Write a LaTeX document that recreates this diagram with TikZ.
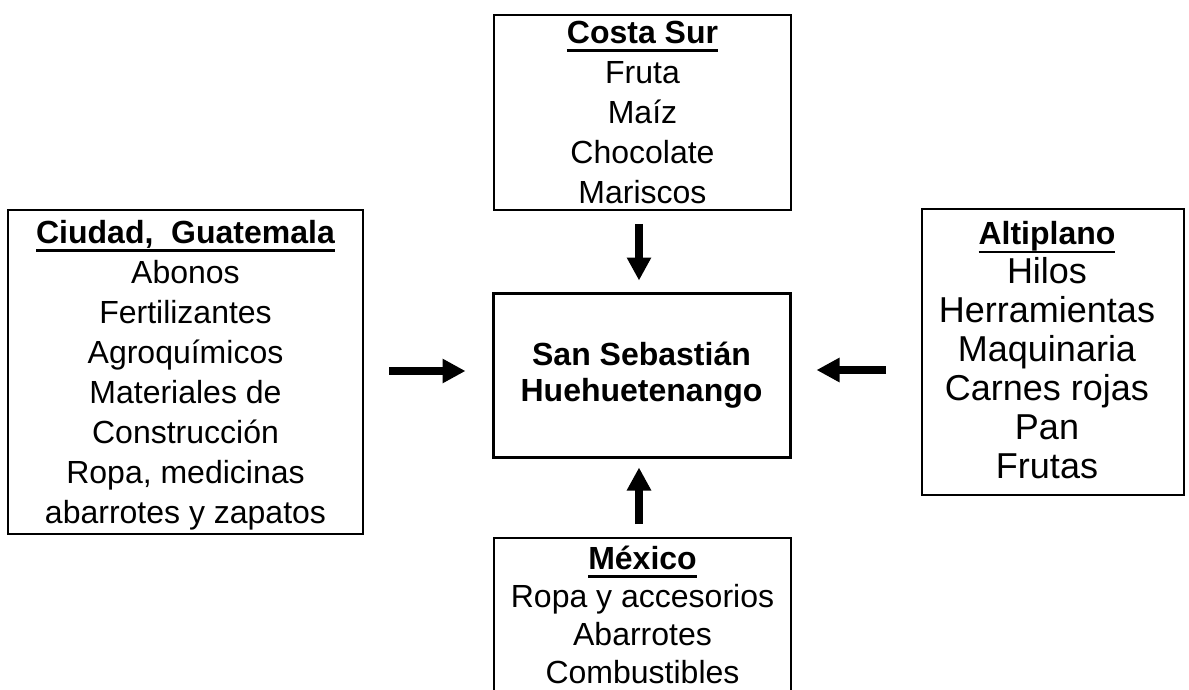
\documentclass[tikz,border=0pt]{standalone}
\usepackage{fontspec}
\setmainfont{Liberation Sans}
\usetikzlibrary{arrows.meta}
\newcommand\ulbox[1]{\sbox0{\bfseries #1}\rlap{\rule[-4.25pt]{\wd0}{1.4pt}}\usebox0}
\begin{document}
\begin{tikzpicture}[x=0.5pt,y=-0.5pt,
  frame/.style={draw, line width=1pt, inner sep=0pt},
  txt/.style={inner sep=0pt, align=center},
  arr/.style={line width=4pt, -{Triangle[length=11.5pt,width=11.5pt]}}]
\useasboundingbox (0,0) rectangle (1189,690);
\begin{scope}
\clip (0,0) rectangle (1189,690);
% frames
\node[frame, line width=0.8pt, minimum width=148.5pt, minimum height=97.5pt] (costa) at (642.5,112.5) {};
\node[frame, line width=1.5pt, minimum width=148.5pt, minimum height=82pt,
  align=center, font=\fontsize{16}{18}\selectfont\bfseries] (center) at (641.5,375)
  {San Sebastián\\Huehuetenango};
\node[frame, minimum width=177.5pt, minimum height=162pt] (ciudad) at (185.5,372) {};
\node[frame, minimum width=131pt, minimum height=143pt] (altiplano) at (1053,352) {};
\node[frame, minimum width=148.5pt, minimum height=81pt] (mexico) at (642.5,619) {};
% texts
\node[txt, font=\fontsize{16}{20}\selectfont] (costatext) at (642.5,112)
  {\ulbox{Costa Sur}\\Fruta\\Maíz\\Chocolate\\Mariscos};
\node[txt, font=\fontsize{16}{20}\selectfont] (ciudadtext) at (185.5,375)
  {\ulbox{Ciudad,~~Guatemala}\\Abonos\\Fertilizantes\\Agroquímicos\\Materiales de\\Construcción\\Ropa, medicinas\\abarrotes y zapatos};
\node[txt, font=\fontsize{18}{19.5}\selectfont] (altiplanotext) at (1047,350.5)
  {{\fontsize{16}{19.5}\selectfont\ulbox{Altiplano}}\\Hilos\\Herramientas\\Maquinaria\\Carnes rojas\\Pan\\Frutas};
\node[txt, font=\fontsize{16}{19}\selectfont] (mexicotext) at (642.5,615)
  {\ulbox{México}\\Ropa y accesorios\\Abarrotes\\Combustibles};
\end{scope}
\coordinate (lt) at (0,371);
\coordinate (rt) at (0,370);
\coordinate (vx) at (639,0);
\draw[arr, shorten <=12.5pt, shorten >=13pt] (ciudad.east |- lt) -- (center.west |- lt);
\draw[arr, shorten <=17.5pt, shorten >=12.5pt] (altiplano.west |- rt) -- (center.east |- rt);
\draw[arr, shorten <=6.5pt, shorten >=5.5pt] (costa.south -| vx) -- (center.north -| vx);
\draw[arr, shorten <=6.5pt, shorten >=4.5pt] (mexico.north -| vx) -- (center.south -| vx);
\end{tikzpicture}
\end{document}
